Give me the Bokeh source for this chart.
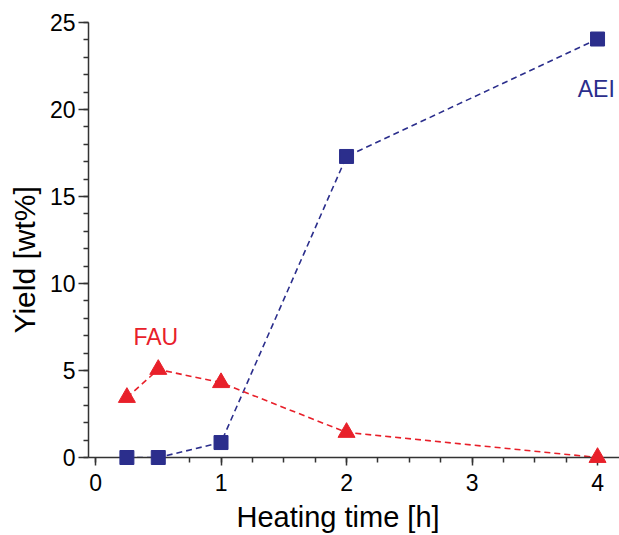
from bokeh.plotting import figure
from bokeh.models import Range1d, FixedTicker, ColumnDataSource, Title
from bokeh.core.properties import value
from bokeh.embed import file_html
from bokeh.resources import INLINE

# Data
time_h = [0.25, 0.5, 1, 2, 4]
aei_yield = [0.0, 0.0, 0.86, 17.3, 24.05]
fau_yield = [3.45, 5.06, 4.3, 1.44, 0.0]
x_ticks = [0, 1, 2, 3, 4]
y_ticks = [0, 5, 10, 15, 20, 25]
series_labels = ["AEI", "FAU"]
label_x = [3.99, 0.48]
label_y = [21.2, 6.9]
x_title = "Heating time [h]"
y_title = "Yield [wt%]"

BLUE = "#2b2e8c"
RED = "#e8202a"
FONT = "Liberation Sans"

p = figure(width=619, height=535, output_backend="svg", toolbar_location=None,
           x_range=Range1d(-0.056, 4.175), y_range=Range1d(0, 25),
           min_border_left=88, min_border_right=0, min_border_top=22,
           min_border_bottom=78)
p.outline_line_color = None
p.grid.visible = False
p.background_fill_color = "white"

src = ColumnDataSource(dict(t=time_h, aei=aei_yield, fau=fau_yield))

p.line("t", "aei", source=src, line_color=BLUE, line_width=1.6, line_dash="6 4")
p.line("t", "fau", source=src, line_color=RED, line_width=1.6, line_dash="6 4")
p.scatter("t", "aei", source=src, marker="square", size=14, fill_color=BLUE,
          line_color=BLUE, level="overlay")
p.scatter("t", "fau", source=src, marker="triangle", size=17, fill_color=RED,
          line_color=RED, level="overlay")

p.text(x=label_x, y=label_y, text=series_labels, text_color=[BLUE, RED],
       text_font=value(FONT), text_font_size="23px", text_align="center",
       text_baseline="middle")

for ax in (p.xaxis[0], p.yaxis[0]):
    ax.axis_line_color = "#333333"
    ax.axis_line_width = 1.5
    ax.major_tick_line_color = "#333333"
    ax.major_tick_line_width = 1.5
    ax.minor_tick_line_color = "#333333"
    ax.minor_tick_line_width = 1.5
    ax.major_tick_in = 0
    ax.minor_tick_in = 0
    ax.major_label_text_font = FONT
    ax.major_label_text_font_size = "23px"
    ax.major_label_text_color = "black"

p.xaxis.ticker = FixedTicker(ticks=x_ticks, minor_ticks=[i * 0.25 for i in range(0, 17)])
p.yaxis.ticker = FixedTicker(ticks=y_ticks, minor_ticks=list(range(0, 26)))
p.xaxis.major_tick_out = 8
p.xaxis.minor_tick_out = 5
p.yaxis.major_tick_out = 10
p.yaxis.minor_tick_out = 5
p.xaxis.major_label_standoff = 8
p.yaxis.major_label_standoff = 3

# axis titles placed like the reference (offset from the frame centre)
p.add_layout(Title(text=x_title, align="left", offset=148, vertical_align="top",
                   padding=(0, 0, 7, 0), text_font=FONT,
                   text_font_size="29px", text_font_style="normal",
                   text_color="black", standoff=0), "below")
p.add_layout(Title(text=y_title, align="left", offset=124, vertical_align="middle",
                   text_font=FONT, text_font_size="30px", text_font_style="normal",
                   text_color="black", standoff=10), "left")

open("out.html", "w").write(file_html(p, INLINE))
